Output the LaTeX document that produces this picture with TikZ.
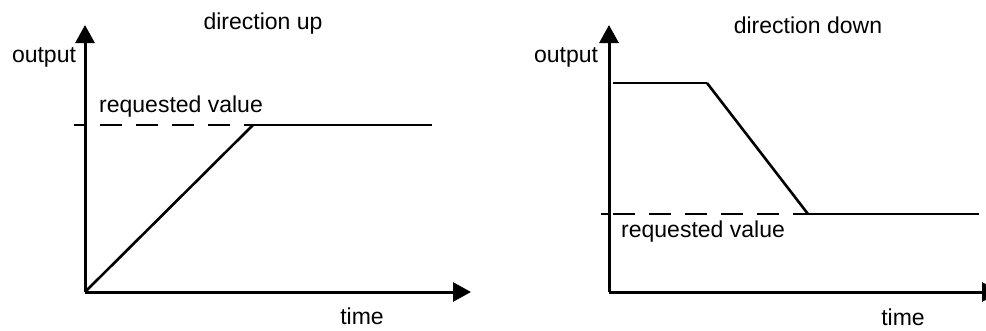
\documentclass[tikz,border=0pt]{standalone}
\usepackage{fontspec}
\setmainfont{Liberation Sans}
\usetikzlibrary{arrows.meta}

\begin{document}
\begin{tikzpicture}[x=1pt,y=-1pt,
  axis/.style={line width=3pt,-{Triangle[length=18pt,width=19pt]}},
  ramp/.style={line width=2.6pt},
  level/.style={line width=1.2pt},
  reqdash/.style={line width=1.2pt,dash pattern=on 22pt off 14pt},
  lbl/.style={font=\fontsize{23}{26}\selectfont,inner sep=0pt}]
\useasboundingbox (0,0) rectangle (986,330);

% direction up
\coordinate (O1) at (85,292);
\coordinate (T1) at (471,292);
\coordinate (Y1) at (85,25);
\draw[axis] (O1)--(T1);
\draw[axis] (O1)--(Y1);
\coordinate (tick1) at (74,125);
\coordinate (dash1) at (100,125);
\coordinate (top1) at (253,125);
\coordinate (end1) at (432,125);
\draw[level] (tick1)--(O1|-tick1);
\draw[reqdash] (dash1)--(top1);
\draw[level] (top1)--(end1);
\draw[ramp] (O1)--(top1);
\node[lbl] (title1) at (263,24) {direction up};
\node[lbl] (out1) at (44,57) {output};
\node[lbl,anchor=west] (req1) at (99,107) {requested value};
\node[lbl] (time1) at (362,316) {time};

% direction down
\coordinate (O2) at (609,292);
\coordinate (T2) at (1000,292);
\coordinate (Y2) at (609,25);
\draw[axis] (O2)--(T2);
\draw[axis] (O2)--(Y2);
\coordinate (hi2) at (613,83);
\coordinate (knee2) at (707,83);
\coordinate (tick2) at (601,214);
\coordinate (dash2) at (613,214);
\coordinate (low2) at (808,214);
\coordinate (end2) at (979,214);
\draw[level] (hi2)--(knee2);
\draw[ramp] (knee2)--(low2);
\draw[level] (tick2)--(O2|-tick2);
\draw[reqdash] (dash2)--(low2);
\draw[level] (low2)--(end2);
\node[lbl] (title2) at (808,25) {direction down};
\node[lbl] (out2) at (566,57) {output};
\node[lbl,anchor=west] (req2) at (621,232) {requested value};
\node[lbl] (time2) at (903,317) {time};
\end{tikzpicture}
\end{document}
